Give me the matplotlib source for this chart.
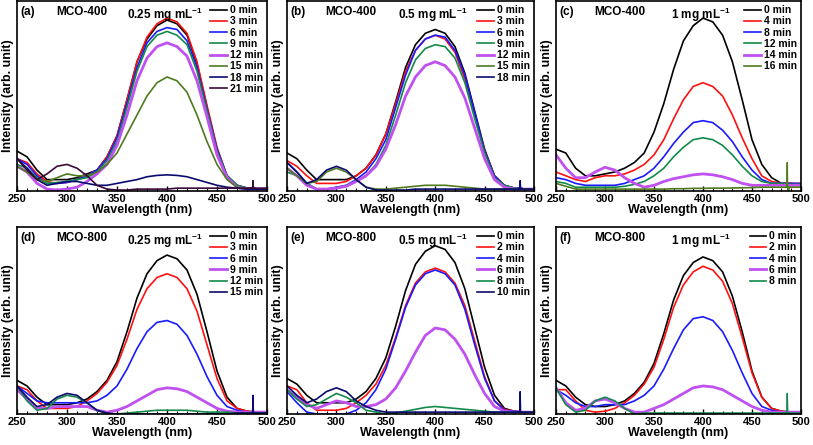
import matplotlib
matplotlib.use("Agg")
import matplotlib.pyplot as plt
from matplotlib.ticker import MultipleLocator

plt.rcParams['font.family'] = ['Liberation Sans', 'DejaVu Sans']
plt.rcParams['font.weight'] = 'bold'
plt.rcParams['mathtext.fontset'] = 'custom'
plt.rcParams['mathtext.rm'] = 'Liberation Sans:bold'
plt.rcParams['mathtext.bf'] = 'Liberation Sans:bold'
plt.rcParams['mathtext.default'] = 'bf'

# wavelength grid (nm)
wavelength = [250, 260, 270, 280, 290, 300, 310, 320, 330, 340, 350, 360, 370,
              380, 390, 400, 410, 420, 430, 440, 450, 460, 470, 480, 490, 500]

# ---------------- panel (a) MCO-400, 0.25 mg/mL ----------------
a_labels = ["0 min", "3 min", "6 min", "9 min", "12 min", "15 min", "18 min", "21 min"]
a_0  = [0.21,0.18,0.11,0.06,0.06,0.06,0.07,0.09,0.11,0.18,0.29,0.48,0.68,0.80,0.87,0.90,0.88,0.82,0.67,0.44,0.22,0.08,0.03,0.015,0.01,0.01]
a_3  = [0.17,0.15,0.09,0.05,0.04,0.045,0.06,0.08,0.11,0.18,0.29,0.48,0.68,0.81,0.88,0.91,0.89,0.83,0.68,0.45,0.23,0.08,0.03,0.015,0.01,0.01]
a_6  = [0.17,0.14,0.08,0.04,0.04,0.045,0.06,0.08,0.11,0.17,0.28,0.46,0.65,0.78,0.84,0.86,0.85,0.79,0.65,0.43,0.22,0.08,0.03,0.015,0.01,0.01]
a_9  = [0.14,0.12,0.07,0.04,0.045,0.05,0.06,0.07,0.10,0.16,0.26,0.44,0.63,0.76,0.82,0.84,0.82,0.77,0.63,0.42,0.21,0.08,0.03,0.015,0.01,0.01]
a_12 = [0.13,0.10,0.04,0.01,0.005,0.01,0.02,0.05,0.09,0.14,0.24,0.40,0.58,0.70,0.76,0.78,0.76,0.71,0.58,0.39,0.19,0.07,0.02,0.01,0.01,0.01]
a_15 = [0.13,0.10,0.06,0.05,0.07,0.09,0.08,0.08,0.10,0.14,0.20,0.30,0.40,0.50,0.57,0.60,0.58,0.52,0.40,0.26,0.14,0.06,0.02,0.01,0.01,0.01]
a_18 = [0.17,0.12,0.06,0.03,0.04,0.05,0.05,0.04,0.03,0.03,0.04,0.05,0.06,0.075,0.082,0.085,0.082,0.075,0.06,0.045,0.03,0.02,0.015,0.01,0.01,0.01]
a_21 = [0.17,0.11,0.06,0.09,0.13,0.14,0.12,0.08,0.03,0.01,0.005,0.005,0.01,0.01,0.01,0.01,0.015,0.015,0.015,0.015,0.015,0.015,0.015,0.015,0.015,0.015]

# ---------------- panel (b) MCO-400, 0.5 mg/mL ----------------
b_labels = ["0 min", "3 min", "6 min", "9 min", "12 min", "15 min", "18 min"]
b_0  = [0.20,0.17,0.11,0.06,0.06,0.06,0.06,0.08,0.12,0.19,0.30,0.47,0.65,0.77,0.83,0.85,0.83,0.76,0.62,0.42,0.22,0.08,0.03,0.015,0.01,0.01]
b_3  = [0.16,0.13,0.08,0.04,0.04,0.04,0.05,0.08,0.12,0.19,0.30,0.46,0.63,0.74,0.80,0.82,0.80,0.73,0.59,0.40,0.21,0.08,0.03,0.015,0.01,0.01]
b_6  = [0.15,0.10,0.04,0.01,0.01,0.02,0.03,0.06,0.10,0.17,0.27,0.44,0.61,0.74,0.80,0.82,0.81,0.74,0.61,0.41,0.21,0.08,0.03,0.015,0.01,0.01]
b_9  = [0.10,0.08,0.04,0.01,0.01,0.015,0.03,0.05,0.08,0.14,0.24,0.40,0.57,0.69,0.75,0.77,0.76,0.70,0.57,0.38,0.20,0.07,0.03,0.015,0.01,0.01]
b_12 = [0.12,0.08,0.03,0.01,0.01,0.015,0.025,0.05,0.08,0.13,0.22,0.35,0.50,0.60,0.66,0.68,0.66,0.60,0.49,0.33,0.17,0.06,0.02,0.01,0.01,0.01]
b_15 = [0.12,0.08,0.04,0.05,0.10,0.12,0.10,0.06,0.02,0.01,0.01,0.015,0.02,0.025,0.03,0.03,0.03,0.025,0.02,0.015,0.01,0.01,0.01,0.01,0.01,0.01]
b_18 = [0.15,0.10,0.04,0.06,0.11,0.13,0.11,0.06,0.02,0.005,0.005,0.005,0.005,0.01,0.01,0.01,0.01,0.01,0.01,0.01,0.01,0.01,0.01,0.01,0.01,0.01]

# ---------------- panel (c) MCO-400, 1 mg/mL ----------------
c_labels = ["0 min", "4 min", "8 min", "12 min", "14 min", "16 min"]
c_0  = [0.22,0.20,0.12,0.08,0.08,0.09,0.10,0.12,0.15,0.20,0.31,0.46,0.64,0.79,0.87,0.91,0.89,0.82,0.68,0.48,0.27,0.14,0.07,0.04,0.04,0.03]
c_4  = [0.10,0.08,0.06,0.05,0.07,0.08,0.08,0.09,0.11,0.14,0.19,0.27,0.38,0.48,0.55,0.57,0.55,0.50,0.40,0.28,0.17,0.08,0.05,0.04,0.04,0.04]
c_8  = [0.07,0.06,0.04,0.03,0.03,0.03,0.03,0.04,0.06,0.08,0.12,0.18,0.25,0.31,0.36,0.37,0.36,0.32,0.26,0.18,0.11,0.06,0.04,0.04,0.04,0.04]
c_12 = [0.05,0.04,0.02,0.02,0.02,0.02,0.02,0.025,0.035,0.05,0.08,0.12,0.18,0.23,0.27,0.28,0.27,0.24,0.19,0.13,0.08,0.05,0.04,0.04,0.035,0.035]
c_14 = [0.19,0.12,0.07,0.07,0.10,0.125,0.11,0.07,0.04,0.02,0.03,0.05,0.065,0.075,0.085,0.09,0.085,0.075,0.06,0.04,0.03,0.03,0.03,0.03,0.03,0.03]
c_16 = [0.04,0.025,0.01,0.01,0.01,0.01,0.01,0.01,0.01,0.01,0.01,0.01,0.012,0.012,0.014,0.014,0.015,0.015,0.016,0.017,0.018,0.02,0.02,0.02,0.02,0.02]

# ---------------- panel (d) MCO-800, 0.25 mg/mL ----------------
d_labels = ["0 min", "3 min", "6 min", "9 min", "12 min", "15 min"]
d_0  = [0.18,0.15,0.09,0.05,0.05,0.05,0.06,0.08,0.12,0.18,0.28,0.44,0.62,0.75,0.82,0.85,0.83,0.77,0.64,0.44,0.23,0.09,0.03,0.015,0.01,0.01]
d_3  = [0.15,0.13,0.07,0.03,0.03,0.03,0.04,0.07,0.11,0.17,0.26,0.40,0.56,0.67,0.73,0.75,0.73,0.67,0.55,0.37,0.19,0.07,0.03,0.015,0.01,0.01]
d_6  = [0.15,0.11,0.07,0.06,0.06,0.06,0.06,0.06,0.07,0.10,0.15,0.24,0.35,0.44,0.49,0.50,0.48,0.42,0.32,0.20,0.10,0.04,0.02,0.01,0.01,0.01]
d_9  = [0.13,0.08,0.03,0.03,0.04,0.04,0.04,0.04,0.02,0.01,0.02,0.04,0.07,0.10,0.13,0.14,0.135,0.12,0.09,0.06,0.03,0.015,0.01,0.01,0.01,0.01]
d_12 = [0.15,0.07,0.02,0.03,0.08,0.10,0.09,0.06,0.02,0.0,0.0,0.005,0.01,0.015,0.02,0.02,0.02,0.02,0.015,0.01,0.01,0.01,0.005,0.005,0.005,0.005]
d_15 = [0.15,0.09,0.04,0.05,0.09,0.11,0.10,0.06,0.02,0.005,0.0,0.0,0.0,0.0,0.0,0.0,0.0,0.0,0.0,0.0,0.0,0.0,0.005,0.005,0.005,0.005]

# ---------------- panel (e) MCO-800, 0.5 mg/mL ----------------
e_labels = ["0 min", "2 min", "4 min", "6 min", "8 min", "10 min"]
e_0  = [0.19,0.16,0.10,0.06,0.06,0.06,0.06,0.08,0.12,0.19,0.30,0.47,0.66,0.80,0.87,0.90,0.88,0.81,0.67,0.46,0.25,0.10,0.03,0.015,0.01,0.01]
e_2  = [0.15,0.13,0.06,0.02,0.02,0.02,0.03,0.06,0.10,0.16,0.26,0.41,0.58,0.70,0.76,0.78,0.76,0.70,0.58,0.39,0.20,0.07,0.025,0.015,0.01,0.01]
e_4  = [0.12,0.06,0.01,0.0,0.0,0.0,0.0,0.02,0.06,0.13,0.24,0.40,0.57,0.69,0.75,0.77,0.75,0.69,0.56,0.37,0.19,0.07,0.02,0.015,0.01,0.01]
e_6  = [0.13,0.09,0.05,0.03,0.05,0.07,0.06,0.04,0.04,0.05,0.08,0.14,0.23,0.33,0.42,0.46,0.45,0.40,0.32,0.21,0.11,0.04,0.015,0.01,0.01,0.01]
e_8  = [0.13,0.08,0.04,0.05,0.08,0.11,0.09,0.06,0.02,0.01,0.0,0.005,0.015,0.025,0.035,0.04,0.035,0.03,0.025,0.02,0.015,0.01,0.01,0.01,0.01,0.01]
e_10 = [0.15,0.10,0.06,0.08,0.12,0.14,0.12,0.07,0.04,0.02,0.01,0.01,0.01,0.01,0.01,0.01,0.01,0.01,0.01,0.01,0.01,0.01,0.01,0.01,0.01,0.01]

# ---------------- panel (f) MCO-800, 1 mg/mL ----------------
f_labels = ["0 min", "2 min", "4 min", "6 min", "8 min"]
f_0  = [0.18,0.15,0.09,0.05,0.04,0.04,0.05,0.07,0.11,0.17,0.27,0.43,0.61,0.74,0.81,0.84,0.82,0.76,0.63,0.44,0.23,0.09,0.03,0.015,0.01,0.01]
f_2  = [0.13,0.13,0.07,0.02,0.01,0.015,0.03,0.06,0.10,0.16,0.25,0.40,0.57,0.69,0.76,0.79,0.77,0.71,0.59,0.41,0.22,0.09,0.03,0.015,0.01,0.01]
f_4  = [0.13,0.10,0.06,0.04,0.04,0.05,0.05,0.05,0.07,0.10,0.15,0.24,0.35,0.45,0.51,0.52,0.50,0.44,0.34,0.22,0.11,0.04,0.02,0.01,0.01,0.01]
f_6  = [0.14,0.06,0.02,0.03,0.07,0.08,0.06,0.03,0.01,0.01,0.03,0.05,0.08,0.11,0.14,0.15,0.145,0.13,0.10,0.07,0.04,0.02,0.01,0.01,0.01,0.01]
f_8  = [0.14,0.05,0.01,0.02,0.07,0.09,0.07,0.03,0.0,0.005,0.005,0.005,0.005,0.005,0.005,0.005,0.005,0.005,0.005,0.005,0.005,0.005,0.005,0.005,0.005,0.005]

# detector glitch near 486 nm (x, y) drawn in the colour of one series
spike_x = [484, 485.5, 486, 486.5, 488]
spike_a = [0.015, 0.015, 0.055, 0.015, 0.015]
spike_c = [0.02, 0.02, 0.15, -0.05, 0.02]
spike_d = [0.005, 0.005, 0.10, 0.005, 0.005]
spike_e = [0.01, 0.01, 0.12, 0.01, 0.01]
spike_f = [0.005, 0.005, 0.11, 0.005, 0.005]

BLACK = "#000000"
RED = "#ff1010"
BLUE = "#1a1aff"
GREEN = "#128a4a"
VIOLET = "#c050f0"
OLIVE = "#4f7a1e"
NAVY = "#0a0a70"
DPURPLE = "#3a0a3a"

panels = [
    dict(tag="(a)", sample="MCO-400", conc=r"0.25 mg mL$^{-1}$", labels=a_labels,
         series=[a_0, a_3, a_6, a_9, a_12, a_15, a_18, a_21],
         colors=[BLACK, RED, BLUE, GREEN, VIOLET, OLIVE, NAVY, DPURPLE],
         spike=(spike_a, DPURPLE), pos=[17, 1, 267, 191]),
    dict(tag="(b)", sample="MCO-400", conc=r"0.5 mg mL$^{-1}$", labels=b_labels,
         series=[b_0, b_3, b_6, b_9, b_12, b_15, b_18],
         colors=[BLACK, RED, BLUE, GREEN, VIOLET, OLIVE, NAVY],
         spike=(spike_a, NAVY), pos=[287, 1, 534, 191]),
    dict(tag="(c)", sample="MCO-400", conc=r"1 mg mL$^{-1}$", labels=c_labels,
         series=[c_0, c_4, c_8, c_12, c_14, c_16],
         colors=[BLACK, RED, BLUE, GREEN, VIOLET, OLIVE],
         spike=(spike_c, OLIVE), pos=[556, 1, 801, 191]),
    dict(tag="(d)", sample="MCO-800", conc=r"0.25 mg mL$^{-1}$", labels=d_labels,
         series=[d_0, d_3, d_6, d_9, d_12, d_15],
         colors=[BLACK, RED, BLUE, VIOLET, GREEN, NAVY],
         spike=(spike_d, NAVY), pos=[17, 227, 267, 414]),
    dict(tag="(e)", sample="MCO-800", conc=r"0.5 mg mL$^{-1}$", labels=e_labels,
         series=[e_0, e_2, e_4, e_6, e_8, e_10],
         colors=[BLACK, RED, BLUE, VIOLET, GREEN, NAVY],
         spike=(spike_e, NAVY), pos=[287, 227, 534, 414]),
    dict(tag="(f)", sample="MCO-800", conc=r"1 mg mL$^{-1}$", labels=f_labels,
         series=[f_0, f_2, f_4, f_6, f_8],
         colors=[BLACK, RED, BLUE, VIOLET, GREEN],
         spike=(spike_f, GREEN), pos=[556, 227, 801, 414]),
]

W, H = 813, 445
fig = plt.figure(figsize=(W / 100, H / 100), dpi=100)

for p in panels:
    x0, y0, x1, y1 = p["pos"]
    ax = fig.add_axes([x0 / W, 1 - y1 / H, (x1 - x0) / W, (y1 - y0) / H])
    for s, col, lab in zip(p["series"], p["colors"], p["labels"]):
        lw = 2.0 if col == VIOLET else 1.2
        ax.plot(wavelength, s, color=col, lw=lw, label=lab)
    sy, scol = p["spike"]
    ax.plot(spike_x, sy, color=scol, lw=1.0)
    ax.set_xlim(250, 500)
    ax.set_ylim(0, 1)
    ax.set_yticks([])
    ax.xaxis.set_major_locator(MultipleLocator(50))
    ax.xaxis.set_minor_locator(MultipleLocator(10))
    ax.tick_params(axis="x", which="major", direction="in", length=3.5, width=1,
                   labelsize=8, pad=2)
    ax.tick_params(axis="x", which="minor", direction="in", length=2, width=0.8)
    for lbl in ax.get_xticklabels():
        lbl.set_fontweight("bold")
    for sp in ax.spines.values():
        sp.set_linewidth(1.2)
    ax.set_xlabel("Wavelength (nm)", fontsize=9, fontweight="bold", labelpad=0)
    ax.set_ylabel("Intensity (arb. unit)", fontsize=9, fontweight="bold", labelpad=2)
    ax.text(0.015, 0.975, p["tag"], transform=ax.transAxes, fontsize=8.5,
            fontweight="bold", va="top", ha="left")
    ax.text(0.26, 0.975, p["sample"], transform=ax.transAxes, fontsize=8.5,
            fontweight="bold", va="top", ha="center")
    ax.text(0.59, 0.975, p["conc"], transform=ax.transAxes, fontsize=8.5,
            fontweight="bold", va="top", ha="center")
    leg = ax.legend(loc="upper right", frameon=False, fontsize=7.5,
                    handlelength=1.6, handletextpad=0.3, labelspacing=0.12,
                    borderaxespad=0.2, borderpad=0.2)
    for t in leg.get_texts():
        t.set_fontweight("bold")

fig.savefig("out.png", dpi=100)
